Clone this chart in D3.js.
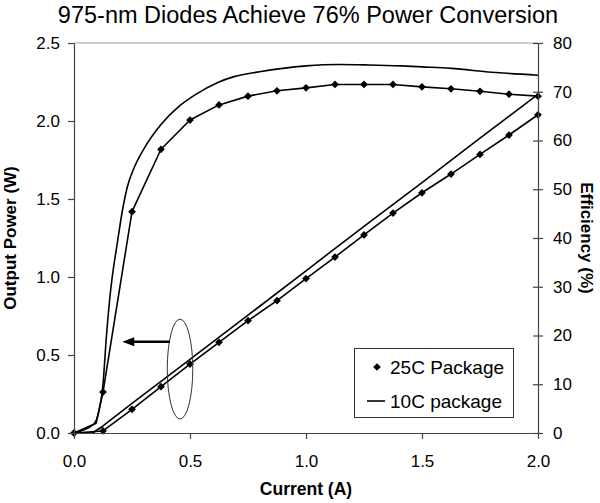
<!DOCTYPE html>
<html><head><meta charset="utf-8">
<script src="https://cdn.jsdelivr.net/npm/d3@7"></script>
<style>body{margin:0;background:#fff} svg{display:block} text{font-family:"Liberation Sans",Arial,sans-serif;fill:#000}</style>
</head><body><svg id="c" width="600" height="503"></svg>
<script>
// ---- data ----
const xTicks = [0, 0.5, 1.0, 1.5, 2.0];
const leftTicks = [0, 0.5, 1.0, 1.5, 2.0, 2.5];
const rightTicks = [0, 10, 20, 30, 40, 50, 60, 70, 80];

// 25C package: output power (W) at marker currents (A)
const current25 = [0, 0.125, 0.25, 0.375, 0.5, 0.625, 0.75, 0.875, 1.0, 1.125, 1.25, 1.375, 1.5, 1.625, 1.75, 1.875, 2.0];
const power25 = [0, 0.013, 0.152, 0.297, 0.442, 0.581, 0.72, 0.848, 0.99, 1.128, 1.27, 1.41, 1.54, 1.66, 1.786, 1.91, 2.04];
// 25C package: efficiency (%)
const effCurrent25 = [0, 0.095, 0.125, 0.25, 0.375, 0.5, 0.625, 0.75, 0.875, 1.0, 1.125, 1.25, 1.375, 1.5, 1.625, 1.75, 1.875, 2.0];
const eff25 = [0, 2.0, 8.4, 45.4, 58.2, 64.2, 67.3, 69.1, 70.2, 70.8, 71.5, 71.5, 71.5, 71.0, 70.6, 70.1, 69.5, 69.1];

// 10C package: output power (W)
const powCurrent10 = [0, 0.08, 0.125, 0.25, 0.5, 0.75, 1.0, 1.25, 1.5, 1.75, 2.0];
const power10 = [0, 0, 0.045, 0.19, 0.472, 0.755, 1.04, 1.325, 1.605, 1.89, 2.17];
// 10C package: efficiency (%)
const effCurrent10 = [0, 0.085, 0.105, 0.125, 0.14, 0.155, 0.19, 0.21, 0.23, 0.26, 0.3, 0.375, 0.45, 0.52, 0.62, 0.69, 0.8, 0.9, 1.0, 1.14, 1.27, 1.41, 1.5, 1.625, 1.8, 2.0];
const eff10 = [0, 1.8, 4, 10, 20, 28, 40, 46, 50.5, 54.5, 58.2, 63.3, 66.9, 69.3, 71.9, 73.1, 74.1, 74.8, 75.3, 75.6, 75.5, 75.3, 75.1, 74.8, 74.0, 73.4];

const legendLabels = ["25C Package", "10C package"];

// ---- chart ----
const svg = d3.select("#c");
const x = d3.scaleLinear([0, 2], [74, 538]);
const yL = d3.scaleLinear([0, 2.5], [433, 43]);
const yR = d3.scaleLinear([0, 80], [433, 43]);
const fmt1 = d3.format(".1f");
const axisColor = "#444";

// top border
svg.append("line").attr("x1", x(0)).attr("x2", x(2)).attr("y1", yL(2.5)).attr("y2", yL(2.5))
  .attr("stroke", "#a0a0a0").attr("stroke-width", 1.2);

// curves
const lineL = d3.line().x(d => x(d[0])).y(d => yL(d[1]));
const lineR = d3.line().x(d => x(d[0])).y(d => yR(d[1]));
const lineRSmooth = d3.line().x(d => x(d[0])).y(d => yR(d[1])).curve(d3.curveMonotoneX);
const zip = (a, b) => a.map((v, i) => [v, b[i]]);

const pathStyle = p => p.attr("fill", "none").attr("stroke", "#000").attr("stroke-width", 1.6).attr("stroke-linejoin", "round");
svg.append("path").attr("d", lineRSmooth(zip(effCurrent10, eff10))).call(pathStyle);
svg.append("path").attr("d", lineR(zip(effCurrent25, eff25))).call(pathStyle);
svg.append("path").attr("d", lineL(zip(powCurrent10, power10))).call(pathStyle);
svg.append("path").attr("d", lineL(zip(current25, power25))).call(pathStyle);

// markers
const diamond = d3.symbol().type(d3.symbolSquare).size(30)();
const isMarked = c => Math.abs(c / 0.125 - Math.round(c / 0.125)) < 1e-6;
svg.append("g").selectAll("path").data(zip(current25, power25)).join("path")
  .attr("d", diamond).attr("transform", d => `translate(${x(d[0])},${yL(d[1])}) rotate(45)`).attr("fill", "#000");
svg.append("g").selectAll("path").data(zip(effCurrent25, eff25).filter(d => isMarked(d[0]))).join("path")
  .attr("d", diamond).attr("transform", d => `translate(${x(d[0])},${yR(d[1])}) rotate(45)`).attr("fill", "#000");

// axes
const gL = svg.append("g").attr("transform", `translate(${x(0)},0)`)
  .call(d3.axisLeft(yL).tickValues(leftTicks).tickFormat(fmt1).tickSize(6).tickSizeOuter(0).tickPadding(8));
const gR = svg.append("g").attr("transform", `translate(${x(2)},0)`)
  .call(d3.axisRight(yR).tickValues(rightTicks).tickFormat(d3.format("d")).tickSize(5).tickSizeOuter(0).tickPadding(10));
gR.selectAll(".tick line").attr("x1", -5).attr("x2", 5);
const gB = svg.append("g").attr("transform", `translate(0,${yL(0)})`)
  .call(d3.axisBottom(x).tickValues(xTicks).tickFormat(fmt1).tickSize(6).tickSizeOuter(0).tickPadding(16));
[gL, gR, gB].forEach(g => {
  g.selectAll("path.domain").attr("stroke", axisColor).attr("stroke-width", 1.2);
  g.selectAll(".tick line").attr("stroke", axisColor).attr("stroke-width", 1.2);
  g.selectAll("text").attr("font-size", 17).attr("font-family", "'Liberation Sans', Arial, sans-serif").attr("fill", "#000");
});

// annotation: ellipse + arrow
svg.append("ellipse").attr("cx", x(0.457)).attr("cy", yL(0.41))
  .attr("rx", x(0.055) - x(0)).attr("ry", yL(0) - yL(0.32))
  .attr("fill", "none").attr("stroke", "#333").attr("stroke-width", 1);
const ay = yL(0.585), ax0 = x(0.414), ax1 = x(0.208);
svg.append("line").attr("x1", ax0).attr("x2", ax1 + 9).attr("y1", ay).attr("y2", ay)
  .attr("stroke", "#000").attr("stroke-width", 2.5);
svg.append("path").attr("d", `M${ax1},${ay} L${ax1 + 12},${ay - 4.5} L${ax1 + 12},${ay + 4.5} Z`).attr("fill", "#000");

// legend
const lg = svg.append("g");
lg.append("rect").attr("x", 354.5).attr("y", 348.5).attr("width", 159).attr("height", 69)
  .attr("fill", "#fff").attr("stroke", "#333").attr("stroke-width", 1);
lg.append("path").attr("d", diamond).attr("transform", "translate(377,367) rotate(45)").attr("fill", "#000");
lg.append("line").attr("x1", 367).attr("x2", 385).attr("y1", 401).attr("y2", 401).attr("stroke", "#000").attr("stroke-width", 1.6);
lg.selectAll("text").data(legendLabels).join("text")
  .attr("x", 390).attr("y", (d, i) => 373.5 + i * 34).attr("font-size", 19).text(d => d);

// titles
svg.append("text").attr("x", 308).attr("y", 23).attr("text-anchor", "middle").attr("font-size", 23.5)
  .text("975-nm Diodes Achieve 76% Power Conversion");
svg.append("text").attr("x", (x(0) + x(2)) / 2).attr("y", 495).attr("text-anchor", "middle")
  .attr("font-size", 17.5).attr("font-weight", "bold").text("Current (A)");
svg.append("text").attr("transform", `translate(15.5,${(yL(0) + yL(2.5)) / 2}) rotate(-90)`).attr("text-anchor", "middle")
  .attr("font-size", 17).attr("font-weight", "bold").text("Output Power (W)");
svg.append("text").attr("transform", `translate(581,${(yL(0) + yL(2.5)) / 2}) rotate(90)`).attr("text-anchor", "middle")
  .attr("font-size", 17).attr("font-weight", "bold").text("Efficiency (%)");
</script></body></html>
